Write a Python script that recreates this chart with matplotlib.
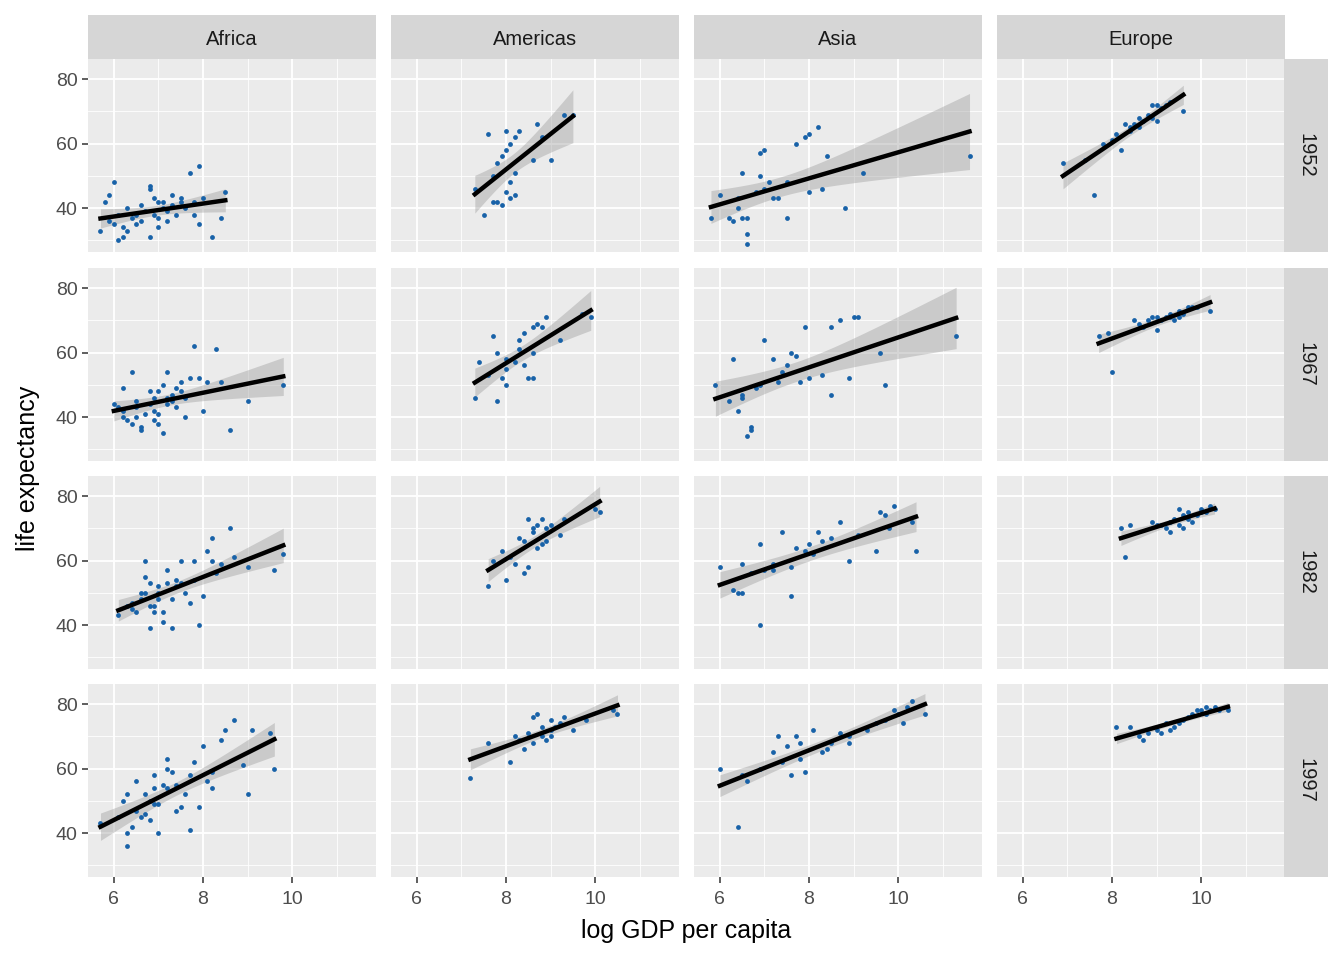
import numpy as np
import matplotlib.pyplot as plt

continents = ["Africa", "Americas", "Asia", "Europe"]
years = [1952, 1967, 1982, 1997]

africa_1952 = [(5.7,33),(5.8,42),(5.9,36),(6.0,35),(6.0,48),(6.1,38),(6.2,34),(6.2,31),(6.3,33),(6.3,40),(6.4,37),(6.5,38),(6.6,36),(6.6,41),(6.7,39),(6.8,47),(6.8,46),(6.8,31),(6.9,38),(6.9,43),(7.0,42),(7.0,37),(7.0,34),(7.1,40),(7.1,42),(7.2,39),(7.3,44),(7.3,41),(7.4,38),(7.5,42),(7.5,43),(7.6,40),(7.7,51),(7.8,42),(7.9,35),(7.9,53),(8.0,43),(8.2,31),(8.4,37),(8.5,45),(6.5,35),(7.2,36),(6.1,30),(7.8,38),(5.9,44)]
americas_1952 = [(7.3,46),(7.5,38),(7.6,63),(7.7,50),(7.7,42),(7.8,42),(7.9,41),(7.9,56),(8.0,58),(8.0,64),(8.0,45),(8.1,48),(8.1,43),(8.2,44),(8.2,62),(8.2,51),(8.3,64),(8.6,55),(8.7,66),(8.8,62),(9.0,55),(9.3,69),(9.5,69),(7.8,54),(8.1,60)]
asia_1952 = [(5.8,37),(6.0,44),(6.2,37),(6.3,36),(6.4,40),(6.5,37),(6.5,51),(6.6,32),(6.6,29),(6.6,37),(6.9,50),(6.9,57),(7.0,58),(7.0,46),(7.1,48),(7.2,43),(7.3,43),(7.5,37),(7.5,48),(7.7,60),(7.9,62),(8.0,45),(8.0,63),(8.2,65),(8.3,46),(8.4,56),(8.8,40),(9.2,51),(11.6,56),(6.8,45),(6.4,43)]
europe_1952 = [(6.9,54),(7.4,55),(7.6,44),(7.8,60),(8.0,61),(8.1,63),(8.2,58),(8.3,66),(8.4,65),(8.5,66),(8.6,68),(8.7,67),(8.8,69),(8.9,72),(9.0,72),(9.1,71),(9.2,72),(9.3,73),(9.6,70),(8.9,68),(9.0,67),(8.4,64),(8.6,65)]

africa_1967 = [(6.0,44),(6.1,43),(6.2,49),(6.2,40),(6.3,39),(6.4,54),(6.4,38),(6.5,43),(6.5,45),(6.6,37),(6.6,36),(6.7,41),(6.8,48),(6.8,44),(6.9,42),(6.9,46),(7.0,41),(7.0,48),(7.1,35),(7.1,50),(7.2,44),(7.2,54),(7.3,47),(7.3,45),(7.4,49),(7.4,43),(7.5,51),(7.5,48),(7.6,46),(7.7,52),(7.8,62),(7.9,52),(8.0,42),(8.1,51),(8.3,61),(8.4,51),(8.6,36),(9.0,45),(9.8,50),(6.5,40),(7.0,38),(7.6,40),(6.2,42),(6.9,39),(7.2,46)]
americas_1967 = [(7.3,46),(7.4,57),(7.6,53),(7.7,65),(7.8,45),(7.8,60),(7.9,52),(8.0,50),(8.0,58),(8.2,57),(8.3,64),(8.4,56),(8.4,66),(8.5,52),(8.6,52),(8.6,68),(8.7,69),(8.8,68),(8.9,71),(9.2,64),(9.7,72),(9.9,71),(8.3,61),(8.6,60),(8.0,55)]
asia_1967 = [(5.9,50),(6.2,45),(6.3,58),(6.4,42),(6.5,46),(6.5,47),(6.6,34),(6.7,36),(6.7,37),(6.9,50),(7.0,64),(7.2,58),(7.3,51),(7.5,56),(7.6,60),(7.7,59),(7.8,51),(7.9,68),(8.0,52),(8.3,53),(8.5,47),(8.5,68),(8.7,70),(8.9,52),(9.0,71),(9.1,71),(9.6,60),(9.7,50),(11.3,65),(7.4,54),(6.8,49)]
europe_1967 = [(7.7,65),(7.9,66),(8.0,54),(8.5,70),(8.6,69),(8.7,68),(8.8,70),(8.9,71),(9.0,67),(9.0,71),(9.1,70),(9.2,71),(9.3,72),(9.4,70),(9.5,73),(9.6,72),(9.7,74),(9.8,74),(10.2,73),(9.3,71),(9.5,71),(9.9,74)]

africa_1982 = [(6.1,43),(6.3,46),(6.4,47),(6.4,45),(6.5,44),(6.6,48),(6.7,55),(6.7,60),(6.7,50),(6.8,39),(6.8,46),(6.8,53),(6.9,46),(6.9,44),(7.0,50),(7.0,48),(7.1,41),(7.1,44),(7.2,57),(7.2,53),(7.3,39),(7.3,48),(7.4,52),(7.4,54),(7.5,60),(7.6,50),(7.7,47),(7.8,54),(7.8,60),(7.9,40),(8.0,49),(8.1,63),(8.2,67),(8.2,60),(8.3,56),(8.4,59),(8.6,70),(8.7,61),(9.0,58),(9.6,57),(9.8,62),(6.6,50),(7.0,52),(7.5,53)]
americas_1982 = [(7.6,52),(7.7,60),(7.9,63),(8.0,54),(8.1,61),(8.2,59),(8.3,67),(8.4,56),(8.5,58),(8.5,73),(8.6,70),(8.7,64),(8.7,71),(8.8,65),(8.8,73),(8.9,66),(8.9,70),(9.0,71),(9.2,68),(9.3,73),(10.0,76),(10.1,75),(8.4,66),(8.6,69)]
asia_1982 = [(6.0,58),(6.3,51),(6.4,50),(6.5,59),(6.5,50),(6.7,56),(6.9,40),(6.9,65),(7.0,57),(7.2,57),(7.2,59),(7.4,69),(7.6,58),(7.6,49),(7.7,64),(7.9,63),(8.0,65),(8.2,69),(8.3,66),(8.5,67),(8.7,72),(8.9,60),(9.1,68),(9.5,63),(9.6,75),(9.7,74),(9.8,70),(9.9,77),(10.3,72),(10.4,63),(8.1,62)]
europe_1982 = [(8.2,70),(8.3,61),(8.4,71),(8.9,72),(9.1,71),(9.2,70),(9.3,72),(9.3,69),(9.4,73),(9.5,71),(9.6,74),(9.6,70),(9.7,73),(9.8,72),(9.9,74),(10.0,76),(10.0,75),(10.1,75),(10.2,77),(10.3,76),(9.5,76),(9.7,75),(9.0,71)]

africa_1997 = [(5.7,43),(6.1,45),(6.2,50),(6.3,40),(6.3,36),(6.3,52),(6.4,42),(6.5,47),(6.5,56),(6.6,45),(6.7,52),(6.7,46),(6.8,44),(6.8,50),(6.9,54),(6.9,58),(7.0,40),(7.0,49),(7.1,55),(7.2,54),(7.2,60),(7.2,63),(7.3,59),(7.4,47),(7.4,55),(7.5,48),(7.6,52),(7.7,58),(7.7,41),(7.9,48),(8.0,67),(8.1,56),(8.2,59),(8.2,54),(8.4,69),(8.5,72),(8.7,75),(8.9,61),(9.0,52),(9.1,72),(9.5,71),(9.6,60),(6.9,49),(7.8,62)]
americas_1997 = [(7.2,57),(7.6,68),(8.1,62),(8.2,70),(8.3,69),(8.4,66),(8.5,71),(8.6,68),(8.7,77),(8.8,70),(8.8,73),(8.9,69),(9.0,70),(9.0,72),(9.1,73),(9.2,74),(9.3,76),(9.5,72),(9.8,75),(10.4,78),(10.5,77),(8.6,76),(9.0,75)]
asia_1997 = [(6.0,60),(6.4,42),(6.5,58),(6.6,56),(6.9,60),(7.2,65),(7.3,70),(7.4,62),(7.6,58),(7.7,70),(7.8,68),(7.8,63),(7.9,59),(8.1,72),(8.4,66),(8.5,68),(8.7,71),(8.9,68),(8.9,70),(9.3,72),(9.5,74),(9.7,75),(9.9,78),(10.0,77),(10.1,74),(10.2,79),(10.3,81),(10.6,77),(7.5,67),(8.3,65)]
europe_1997 = [(8.1,73),(8.4,73),(8.6,70),(8.7,69),(8.8,71),(9.0,72),(9.1,71),(9.2,74),(9.3,72),(9.4,73),(9.6,75),(9.7,76),(9.8,77),(9.9,78),(10.0,78),(10.1,77),(10.1,79),(10.2,78),(10.3,79),(10.4,78),(10.6,78),(9.5,74)]

panels = {
    1952: [africa_1952, americas_1952, asia_1952, europe_1952],
    1967: [africa_1967, americas_1967, asia_1967, europe_1967],
    1982: [africa_1982, americas_1982, asia_1982, europe_1982],
    1997: [africa_1997, americas_1997, asia_1997, europe_1997],
}

W, H = 1344, 960
fig = plt.figure(figsize=(W / 100, H / 100), dpi=100)
plt.rcParams['font.family'] = ['Liberation Sans', 'DejaVu Sans']

col_x = [88, 391, 694, 997]
pw = 288
row_y = [59, 268, 476, 684]
ph = 193


def box(x, y, w, h):
    return [x / W, 1 - (y + h) / H, w / W, h / H]


def fit(x, y):
    x = np.asarray(x); y = np.asarray(y)
    n = len(x)
    b, a = np.polyfit(x, y, 1)
    xs = np.linspace(x.min(), x.max(), 80)
    resid = y - (a + b * x)
    s = np.sqrt(np.sum(resid ** 2) / (n - 2))
    se = s * np.sqrt(1 / n + (xs - x.mean()) ** 2 / np.sum((x - x.mean()) ** 2))
    ys = a + b * xs
    return xs, ys, 2.0 * se


for r, yr in enumerate(years):
    for c, cont in enumerate(continents):
        ax = fig.add_axes(box(col_x[c], row_y[r], pw, ph))
        ax.set_facecolor('#EBEBEB')
        ax.set_xticks([6, 8, 10])
        ax.set_xticks([7, 9, 11], minor=True)
        ax.set_yticks([40, 60, 80])
        ax.set_yticks([30, 50, 70], minor=True)
        ax.grid(which='major', color='white', lw=1.3)
        ax.grid(which='minor', color='white', lw=0.6)
        ax.set_axisbelow(True)
        for sp in ax.spines.values():
            sp.set_visible(False)
        ax.tick_params(which='minor', length=0)
        ax.tick_params(which='major', length=4, width=1.1, color='#333333', labelsize=14, labelcolor='#4D4D4D')
        ax.tick_params(axis='x', pad=6)
        if c > 0:
            ax.tick_params(axis='y', labelleft=False, left=False)
        if r < 3:
            ax.tick_params(axis='x', labelbottom=False, bottom=False)
        pts = np.array(panels[yr][c])
        xs, ys, ci = fit(pts[:, 0], pts[:, 1])
        ax.fill_between(xs, ys - ci, ys + ci, color='#999999', alpha=0.4, lw=0, zorder=2)
        ax.scatter(pts[:, 0], pts[:, 1], s=12, color='#1862A8', lw=0, zorder=3)
        ax.plot(xs, ys, color='black', lw=3.2, zorder=4)
        ax.set_xlim(5.42, 11.88)
        ax.set_ylim(26.4, 86.2)

for c, cont in enumerate(continents):
    sax = fig.add_axes(box(col_x[c], 15, pw, 44))
    sax.set_facecolor('#D6D6D6')
    sax.set_xticks([]); sax.set_yticks([])
    for sp in sax.spines.values():
        sp.set_visible(False)
    sax.text(0.5, 0.45, cont, ha='center', va='center', fontsize=14.5, color='#1A1A1A', transform=sax.transAxes)

for r, yr in enumerate(years):
    sax = fig.add_axes(box(1284, row_y[r], 44, ph))
    sax.set_facecolor('#D6D6D6')
    sax.set_xticks([]); sax.set_yticks([])
    for sp in sax.spines.values():
        sp.set_visible(False)
    sax.text(0.5, 0.5, str(yr), ha='center', va='center', rotation=-90, fontsize=14.5, color='#1A1A1A', transform=sax.transAxes)

fig.text(686 / W, 1 - 931 / H, 'log GDP per capita', ha='center', va='center', fontsize=18)
fig.text(28 / W, 1 - 468 / H, 'life expectancy', ha='center', va='center', rotation=90, fontsize=18)

fig.savefig('out.png', dpi=100)
